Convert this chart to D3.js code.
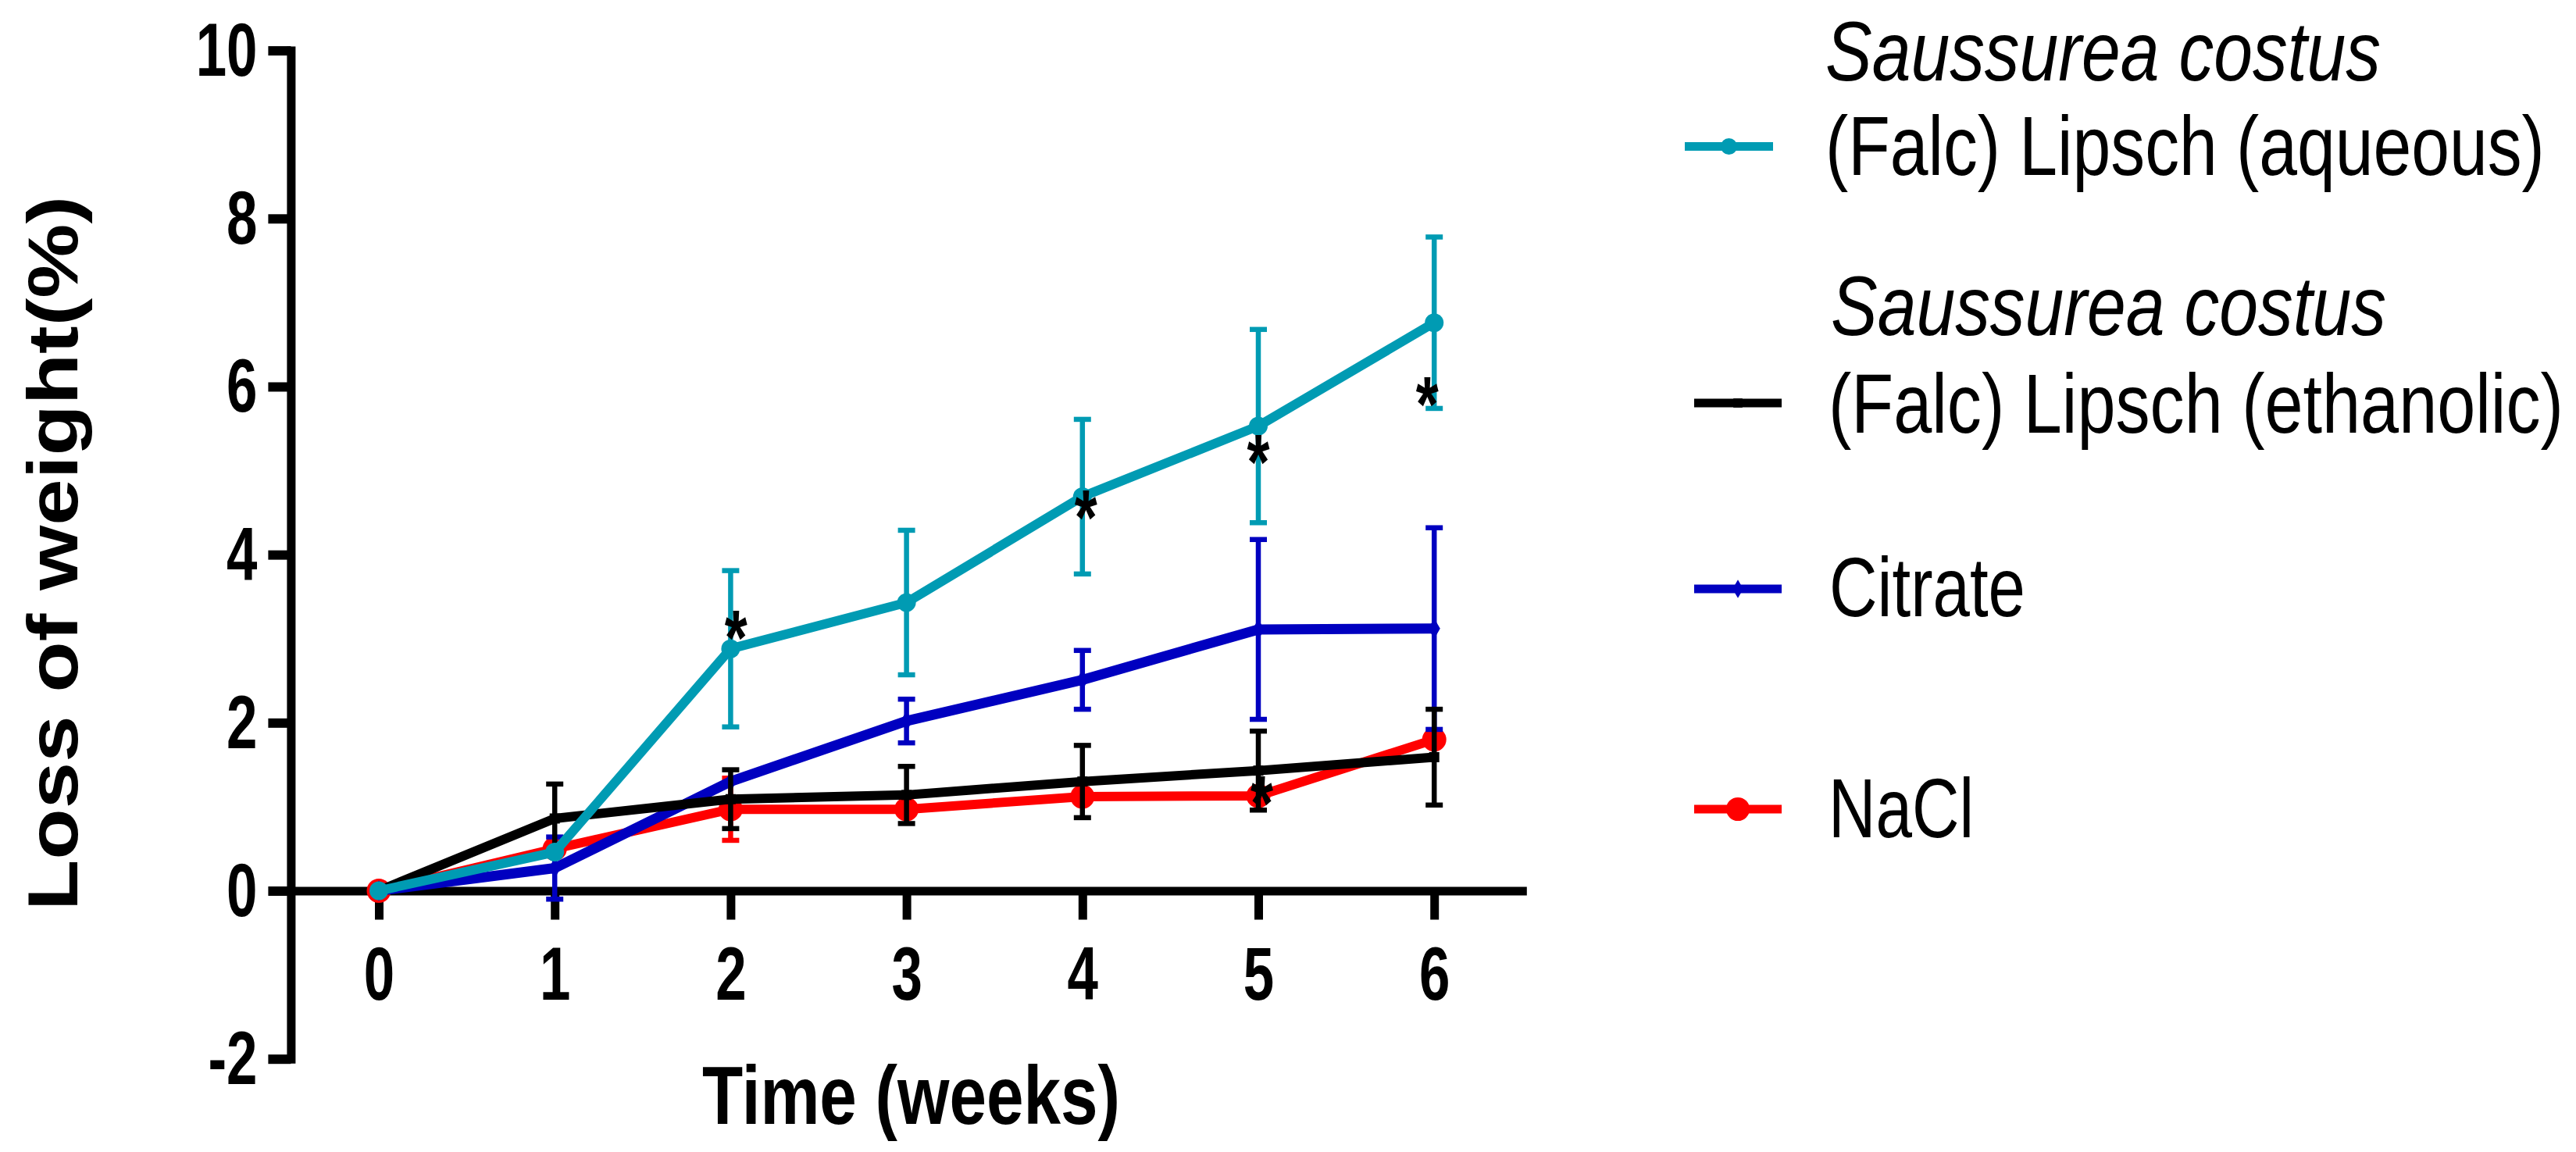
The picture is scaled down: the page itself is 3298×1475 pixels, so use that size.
<!DOCTYPE html>
<html>
<head>
<meta charset="utf-8">
<script src="https://cdn.jsdelivr.net/npm/d3@7"></script>
<style>
  body { margin: 0; background: #ffffff; }
  svg { display: block; }
</style>
</head>
<body>
<svg id="chart" width="3298" height="1475"></svg>
<script>
// ---------------- DATA ----------------
const weeks = [0, 1, 2, 3, 4, 5, 6];
const yTickValues = [-2, 0, 2, 4, 6, 8, 10];

const aqueousMean   = [0, 0.46, 2.88, 3.43, 4.69, 5.53, 6.76];
const aqueousErr    = [0, 0,    0.93, 0.86, 0.92, 1.15, 1.02];
const ethanolicMean = [0, 0.86, 1.09, 1.14, 1.30, 1.43, 1.59];
const ethanolicErr  = [0, 0.41, 0.35, 0.34, 0.43, 0.47, 0.57];
const citrateMean   = [0, 0.27, 1.30, 2.02, 2.51, 3.11, 3.12];
const citrateErr    = [0, 0.37, 0,    0.26, 0.35, 1.07, 1.20];
const naclMean      = [0, 0.50, 0.97, 0.97, 1.12, 1.13, 1.80];
const naclErr       = [0, 0,    0.37, 0,    0,    0,    0];

const seriesKeys = ["aqueous", "ethanolic", "citrate", "nacl"];
const legendLines = [
  ["Saussurea costus", "(Falc) Lipsch (aqueous)"],
  ["Saussurea costus", "(Falc) Lipsch (ethanolic)"],
  ["Citrate"],
  ["NaCl"]
];
// significance marks (week, value)
const starWeeks  = [2.03, 4.02, 5.0, 5.96, 5.02];
const starValues = [3.23, 4.66, 5.32, 6.01, 1.26];

const xTitle = "Time (weeks)";
const yTitle = "Loss of weight(%)";

// ---------------- STYLE / LAYOUT ----------------
const FONT = "'Liberation Sans', Arial, Helvetica, sans-serif";
const colors  = { aqueous: "#009BB3", ethanolic: "#000000", citrate: "#0000C0", nacl: "#FF0000" };
const markers = { aqueous: "circle", ethanolic: "square", citrate: "diamond", nacl: "circle" };
const markerR = { aqueous: 12, ethanolic: 6.5, citrate: 200, nacl: 15.5 };
const lineW   = { aqueous: 12, ethanolic: 12, citrate: 13, nacl: 12 };

const series = {
  aqueous:   { mean: aqueousMean,   err: aqueousErr },
  ethanolic: { mean: ethanolicMean, err: ethanolicErr },
  citrate:   { mean: citrateMean,   err: citrateErr },
  nacl:      { mean: naclMean,      err: naclErr }
};

const svg = d3.select("#chart");
svg.append("rect").attr("width", 3298).attr("height", 1475).attr("fill", "#fff");

const x = d3.scaleLinear().domain([-0.5, 6.5]).range([372.4, 1948.8]);
const y = d3.scaleLinear().domain([-2, 10]).range([1355.7, 64.6]);

function narrow(sel, factor) {
  sel.each(function () {
    const w = this.getComputedTextLength();
    this.setAttribute("textLength", w * factor);
    this.setAttribute("lengthAdjust", "spacingAndGlyphs");
  });
}

// text squeezed horizontally by a transform so that its box is its drawn size
function squeezedText(parent, tx, ty, str, width, attrs) {
  const g = parent.append("g");
  const t = g.append("text").attr("x", 0).attr("y", 0).text(str);
  Object.entries(attrs || {}).forEach(([k, v]) => t.attr(k, v));
  const w = t.node().getComputedTextLength();
  g.attr("transform", `translate(${tx},${ty}) scale(${width / w},1)`);
  return t;
}

// ---------------- AXES ----------------
const yAxisG = svg.append("g")
  .attr("transform", `translate(${x(-0.5)},0)`)
  .call(d3.axisLeft(y).tickValues(yTickValues).tickSizeInner(29).tickSizeOuter(0).tickPadding(14).tickFormat(d => String(d)));
yAxisG.select(".domain").attr("stroke", "#000").attr("stroke-width", 11).attr("stroke-linecap", "square");
yAxisG.selectAll(".tick line").attr("stroke", "#000").attr("stroke-width", 12);
yAxisG.attr("font-family", FONT).attr("font-size", 97).attr("font-weight", "bold");
yAxisG.selectAll(".tick text").attr("fill", "#000").attr("dy", null).attr("y", 32).attr("x", -43);
narrow(yAxisG.selectAll(".tick text"), 0.73);

const xAxisG = svg.append("g")
  .attr("transform", `translate(0,${y(0)})`)
  .call(d3.axisBottom(x).tickValues(weeks).tickSizeInner(37).tickSizeOuter(0).tickFormat(d => String(d)));
xAxisG.select(".domain").attr("stroke", "#000").attr("stroke-width", 11).attr("stroke-linecap", "square");
xAxisG.selectAll(".tick line").attr("stroke", "#000").attr("stroke-width", 11);
xAxisG.attr("font-family", FONT).attr("font-size", 97).attr("font-weight", "bold");
xAxisG.selectAll(".tick text").attr("fill", "#000").attr("dy", null).attr("y", 139);
narrow(xAxisG.selectAll(".tick text"), 0.73);

// axis titles
svg.append("text")
  .attr("x", 1166.5).attr("y", 1439)
  .attr("text-anchor", "middle")
  .attr("font-family", FONT).attr("font-size", 105).attr("font-weight", "bold")
  .attr("textLength", 535).attr("lengthAdjust", "spacingAndGlyphs")
  .text(xTitle);

svg.append("text")
  .attr("transform", "translate(99,708.5) rotate(-90)")
  .attr("text-anchor", "middle")
  .attr("font-family", FONT).attr("font-size", 90).attr("font-weight", "bold")
  .attr("textLength", 915).attr("lengthAdjust", "spacingAndGlyphs")
  .text(yTitle);

// ---------------- SERIES ----------------
function drawMarker(g, key, cx, cy, scale) {
  const c = colors[key];
  const s = scale || 1;
  if (markers[key] === "circle") {
    g.append("circle").attr("cx", cx).attr("cy", cy).attr("r", markerR[key] * s).attr("fill", c);
  } else if (markers[key] === "square") {
    const h = markerR[key] * s;
    g.append("rect").attr("x", cx - h).attr("y", cy - h).attr("width", 2 * h).attr("height", 2 * h).attr("fill", c);
  } else {
    g.append("path").attr("transform", `translate(${cx},${cy})`)
      .attr("d", d3.symbol().type(d3.symbolDiamond).size(markerR[key] * s * s)()).attr("fill", c);
  }
}

const plotG = svg.append("g");
const drawOrder = seriesKeys.slice().reverse();
drawOrder.forEach(key => {
  const s = series[key];
  const c = colors[key];
  const g = plotG.append("g");
  const pts = weeks.map((w, i) => ({ w, m: s.mean[i], e: s.err[i] }));
  // error bars
  pts.filter(p => p.e > 0).forEach(p => {
    const px = x(p.w);
    g.append("line").attr("x1", px).attr("x2", px).attr("y1", y(p.m + p.e)).attr("y2", y(p.m - p.e))
      .attr("stroke", c).attr("stroke-width", 6.5);
    [p.m + p.e, p.m - p.e].forEach(v => {
      g.append("line").attr("x1", px - 11).attr("x2", px + 11).attr("y1", y(v)).attr("y2", y(v))
        .attr("stroke", c).attr("stroke-width", 6.5);
    });
  });
  // line
  g.append("path").datum(pts)
    .attr("d", d3.line().x(p => x(p.w)).y(p => y(p.m)))
    .attr("fill", "none").attr("stroke", c).attr("stroke-width", lineW[key]).attr("stroke-linejoin", "round");
  // markers
  pts.forEach(p => drawMarker(g, key, x(p.w), y(p.m)));
});

// significance asterisks
const starG = svg.append("g").attr("font-family", FONT).attr("font-weight", "bold").attr("font-size", 100);
starWeeks.forEach((w, i) => {
  starG.append("text")
    .attr("x", x(w)).attr("y", y(starValues[i]) + 58)
    .attr("text-anchor", "middle")
    .attr("textLength", 29).attr("lengthAdjust", "spacingAndGlyphs")
    .text("*");
});

// ---------------- LEGEND ----------------
const legendSymbolY = [187.5, 516, 754, 1036];
const legendSymbolX = [[2157, 2270], [2169, 2281], [2169, 2281], [2169, 2281]];
const legendTextX   = [[2337, 2337], [2344, 2341], [2342], [2341]];
const legendBaseY   = [[102.7, 224.3], [429.3, 554], [789], [1072]];
const legendWidths  = [[711, 921], [711, 941], [251], [186]];
const legendMarkerScale = { aqueous: 0.88, ethanolic: 0.9, citrate: 0.9, nacl: 0.97 };

const legG = svg.append("g").attr("font-family", FONT).attr("font-size", 107);
seriesKeys.forEach((key, i) => {
  const g = legG.append("g");
  const [x1, x2] = legendSymbolX[i];
  const ly = legendSymbolY[i];
  g.append("line").attr("x1", x1).attr("x2", x2).attr("y1", ly).attr("y2", ly)
    .attr("stroke", colors[key]).attr("stroke-width", 11);
  drawMarker(g, key, (x1 + x2) / 2, ly, legendMarkerScale[key]);
  legendLines[i].forEach((t, j) => {
    const italic = legendLines[i].length > 1 && j === 0;
    squeezedText(g, legendTextX[i][j], legendBaseY[i][j], t, legendWidths[i][j],
      { "font-style": italic ? "italic" : "normal" });
  });
});
</script>
</body>
</html>
